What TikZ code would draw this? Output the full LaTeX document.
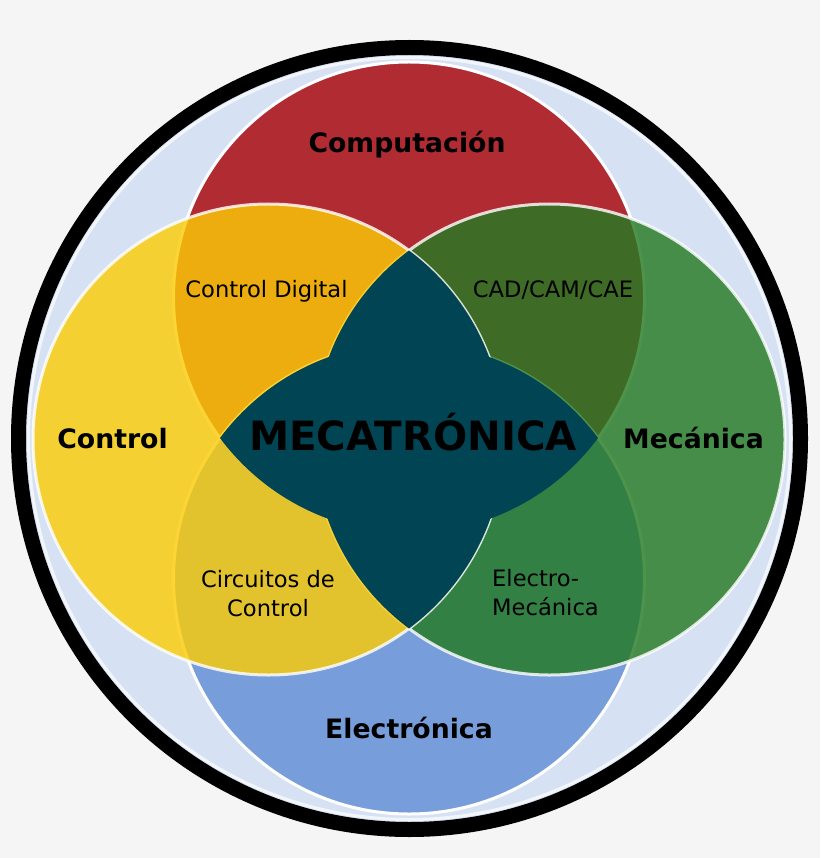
\documentclass[tikz,border=0pt]{standalone}
\usepackage{fontspec}
\setmainfont{DejaVu Sans}
\usepackage{tikz}
\definecolor{bgpage}{HTML}{F5F5F5}
\definecolor{ringblue}{HTML}{D6E2F3}
\definecolor{compred}{HTML}{B12B33}
\definecolor{elecblue}{HTML}{779EDA}
\definecolor{ctrlyellow}{HTML}{FCCC06}
\definecolor{mecgreen}{HTML}{247A22}
\definecolor{mecatro}{HTML}{014453}

\begin{document}
\begin{tikzpicture}[x=1pt,y=-1pt,
  field/.style={inner sep=0pt,font=\fontsize{26.7}{32}\selectfont\bfseries},
  joint/.style={inner sep=0pt,font=\fontsize{22.6}{28.8}\selectfont},
  disc/.style={draw=white,line width=3pt}]
\useasboundingbox (0,0) rectangle (820,858);
\fill[bgpage] (0,0) rectangle (820,858);
\coordinate (mid) at (409.5,438.5);
\coordinate (comp) at (409,297.5);
\coordinate (elec) at (409,578.5);
\coordinate (ctrl) at (268.5,439.5);
\coordinate (mec) at (549.5,439.5);
\fill[ringblue] (mid) circle (384pt);
\draw[white,line width=3pt,opacity=.7] (mid) circle (381pt);
\draw[black,line width=15pt] (mid) circle (391pt);
\path[disc,fill=compred] (comp) circle (235.5pt);
\path[disc,fill=elecblue] (elec) circle (235.5pt);
\path[disc,fill=mecgreen,opacity=.81] (mec) circle (235.5pt);
\path[disc,fill=ctrlyellow,opacity=.81] (ctrl) circle (235.5pt);
\begin{scope}
\clip (ctrl) circle (235.5pt);
\fill[mecatro] (mec) circle (235.5pt);
\end{scope}
\begin{scope}
\clip (comp) circle (235.5pt);
\fill[mecatro] (elec) circle (235.5pt);
\end{scope}
\node[field,anchor=base] (computacion) at (407,153) {Computación};
\node[field,anchor=base] (control) at (112.5,448) {Control};
\node[field,anchor=base] (mecanica) at (693.5,448) {Mecánica};
\node[field,anchor=base] (electronica) at (409,738) {Electrónica};
\node[inner sep=0pt,font=\fontsize{40.3}{44}\selectfont\bfseries,anchor=base] (mecatronica) at (413,450) {MECATRÓNICA};
\node[joint,anchor=base] (digital) at (266.5,297) {Control Digital};
\node[joint,anchor=base] (cad) at (553,298) {CAD/CAM/CAE};
\node[joint,align=center,anchor=base] (circuitos) at (268,616) {Circuitos de\\Control};
\node[joint,align=left,anchor=base west] (electromec) at (492,615) {Electro-\\Mecánica};
\end{tikzpicture}
\end{document}
